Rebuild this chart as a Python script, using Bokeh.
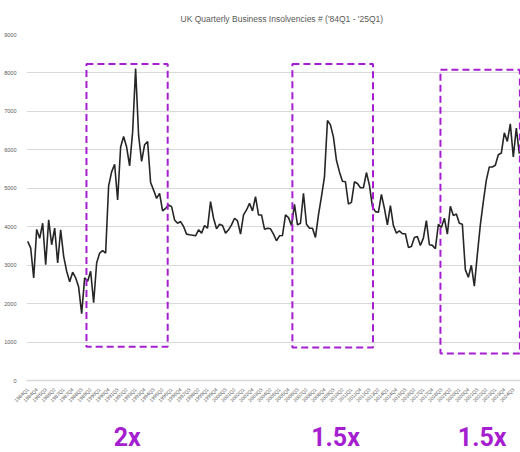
import math
from bokeh.plotting import figure
from bokeh.layouts import column
from bokeh.models import FixedTicker, ColumnDataSource, Range1d
from bokeh.embed import file_html
from bokeh.resources import INLINE
from bokeh.core.properties import value

# ---- data -------------------------------------------------------------
quarters = [f"{y}Q{q}" for y in range(1984, 2026) for q in range(1, 5)][:165]

insolvencies = [
    3618, 3445, 2670, 3930, 3700,
    4091, 3015, 4177, 3531, 3962, 3058, 3919, 3230, 2842, 2567,
    2816, 2670, 2429, 1740, 2670, 2584, 2842, 2024, 3058, 3316,
    3376, 3316, 5064, 5426, 5624, 4694, 6072, 6348, 6072, 5581,
    6460, 8113, 6374, 5702, 6132, 6218, 5150, 4953, 4737, 4866,
    4410, 4479, 4565, 4522, 4177, 4091, 4134, 4005, 3807, 3790,
    3780, 3764, 3919, 3833, 4031, 3962, 4651,
    4220, 3945, 4065, 4031, 3833, 3919, 4048, 4220, 4151, 3807,
    4306, 4436, 4608, 4410, 4780, 4306, 4306, 3936, 3962, 3945,
    3807, 3635, 3764, 3772, 4306, 4237, 4031, 4582, 4048, 4091,
    4866, 4065, 3962, 3962, 3721, 4306, 4780, 5297, 6761, 6649,
    6331, 5728, 5426, 5185, 5168, 4591, 4634, 5168, 5125, 5013,
    5013, 5409, 5082, 4522, 4393, 4375,
    4840, 4479, 4048, 4548, 4031, 3833, 3893, 3816, 3816, 3462,
    3488, 3721, 3747, 3514, 3704, 4160, 3531, 3514, 3428, 4065,
    3979, 4220, 3807, 4530, 4289, 4332, 4091, 4065, 2885, 2687,
    2997, 2455, 3273, 4048, 4651, 5211, 5555, 5555, 5600, 5874,
    5917, 6443, 6218, 6675, 5814, 6563, 5900,
]

y_ticks = [0, 1000, 2000, 3000, 4000, 5000, 6000, 7000, 8000, 9000]
label_step = 3

# highlighted periods (quarter index positions) and their multipliers
box_start = [19.6, 88.3, 137.7]
box_end = [46.7, 115.2, 164.2]
box_low = [880, 860, 705]
box_high = [8235, 8235, 8080]
multipliers = ["2x", "1.5x", "1.5x"]
multiplier_pos = [33.2, 102.7, 151.6]

# ---- plot -------------------------------------------------------------
PURPLE = "#a51fd0"
GREY = "#595959"

idx = list(range(len(insolvencies)))
src = ColumnDataSource(data=dict(idx=idx, v=insolvencies, q=quarters[:len(insolvencies)]))
xr = Range1d(-0.4, 164.4)

p = figure(width=520, height=412, output_backend="svg", toolbar_location=None,
           x_range=xr, y_range=Range1d(0, 9000),
           min_border_left=26, min_border_right=0, min_border_top=32,
           min_border_bottom=32)
p.outline_line_color = None
p.background_fill_color = "white"
p.border_fill_color = "white"

p.title.text = "UK Quarterly Business Insolvencies # ('84Q1 - '25Q1)"
p.title.align = "left"
p.title.offset = 154
p.title.standoff = 22
p.title.text_font = "Liberation Sans"
p.title.text_font_size = "8.5px"
p.title.text_font_style = "normal"
p.title.text_color = GREY

p.xgrid.grid_line_color = None
p.ygrid.grid_line_color = "#d9d9d9"
p.ygrid.grid_line_width = 1
p.ygrid.ticker = FixedTicker(ticks=y_ticks)

p.yaxis.ticker = FixedTicker(ticks=y_ticks)
p.yaxis.axis_line_color = None
p.yaxis.major_tick_line_color = None
p.yaxis.minor_tick_line_color = None
p.yaxis.major_label_text_font_size = "5.5px"
p.yaxis.major_label_text_color = GREY
p.yaxis.major_label_text_font = "Liberation Sans"
p.yaxis.major_label_standoff = 4

xt = list(range(0, len(insolvencies), label_step))
p.xaxis.ticker = FixedTicker(ticks=xt)
p.xaxis.major_label_overrides = {i: quarters[i] for i in xt}
p.xaxis.major_label_orientation = math.pi / 4
p.xaxis.major_label_text_font_size = "5px"
p.xaxis.major_label_text_color = GREY
p.xaxis.major_label_text_font = "Liberation Sans"
p.xaxis.axis_line_color = "#d9d9d9"
p.xaxis.axis_line_width = 1.5
p.xaxis.major_tick_line_color = None
p.xaxis.minor_tick_line_color = None
p.xaxis.major_label_standoff = 2

p.line(x="idx", y="v", source=src, line_color="#262626", line_width=1.6)

p.quad(left=box_start, right=box_end, bottom=box_low, top=box_high,
       fill_color=None, line_color=PURPLE, line_width=2, line_dash="7 4")

# strip below the chart holding the multiplier texts
p2 = figure(width=520, height=40, output_backend="svg", toolbar_location=None,
            x_range=xr, y_range=Range1d(0, 40),
            x_axis_location=None, y_axis_location=None,
            min_border_left=26, min_border_right=0, min_border_top=0,
            min_border_bottom=0)
p2.outline_line_color = None
p2.grid.grid_line_color = None
p2.background_fill_color = "white"
p2.border_fill_color = "white"
p2.text(x=multiplier_pos, y=[15] * len(multipliers), text=multipliers,
        text_font=value("Roboto"), text_font_size="25px",
        text_font_style="bold", text_color=PURPLE,
        text_align="center", text_baseline="middle")

layout = column(p, p2, spacing=0)
layout.styles = {"position": "absolute", "left": "0px", "top": "0px"}

open("out.html", "w").write(file_html(layout, INLINE))
